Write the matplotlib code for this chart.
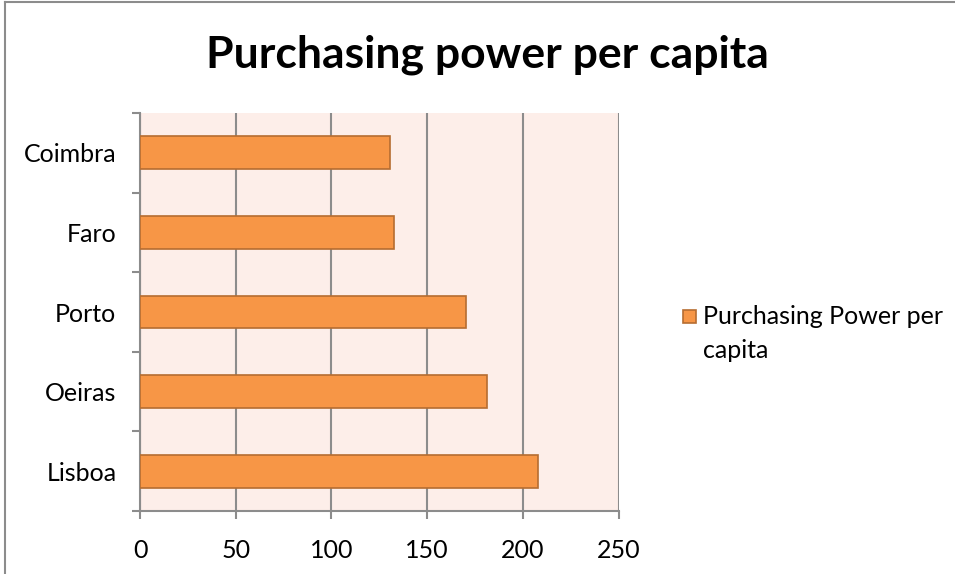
import matplotlib
matplotlib.use('Agg')
import matplotlib.pyplot as plt
from matplotlib.lines import Line2D
from matplotlib.patches import Rectangle
import numpy as np

plt.rcParams['font.family'] = ['Lato', 'DejaVu Sans']

cities = ['Lisboa', 'Oeiras', 'Porto', 'Faro', 'Coimbra']
purchasing_power = [208, 181, 170, 132.5, 130.5]
series_name = 'Purchasing Power per\ncapita'
x_ticks = [0, 50, 100, 150, 200, 250]

W, H = 955, 574
fig = plt.figure(figsize=(W / 100, H / 100), dpi=100)
ax = fig.add_axes([140 / W, 1 - 511 / H, (618.7 - 140) / W, (511 - 113) / H])

grid_col = '#8c8c8c'
bar_face = '#f79646'
bar_edge = '#b66d31'

ax.set_facecolor('#fdeee9')
y = np.arange(len(cities))
ax.barh(y, purchasing_power, height=0.41, color=bar_face, edgecolor=bar_edge,
        linewidth=1.2, zorder=3)

ax.set_xlim(0, 250)
ax.set_ylim(-0.5, len(cities) - 0.5)
ax.set_xticks(x_ticks)
ax.set_xticklabels([str(v) for v in x_ticks], fontsize=18)
ax.xaxis.grid(True, color=grid_col, linewidth=1.5, zorder=1)

# category ticks sit between bars, labels centred on bars
ax.set_yticks(np.arange(-0.5, len(cities), 1.0))
ax.set_yticklabels([])
ax.set_yticks(y, minor=True)
ax.set_yticklabels(cities, minor=True, fontsize=18)
ax.tick_params(axis='y', which='major', length=6, width=1.5, color=grid_col)
ax.tick_params(axis='y', which='minor', length=0, pad=17)
ax.tick_params(axis='x', length=6, width=1.5, color=grid_col, pad=14)

for side in ['top', 'right']:
    ax.spines[side].set_visible(False)
for side in ['left', 'bottom']:
    ax.spines[side].set_color(grid_col)
    ax.spines[side].set_linewidth(1.5)

fig.text(487 / W, 1 - 55 / H, 'Purchasing power per capita', fontsize=32,
         fontweight='bold', ha='center', va='center')

# legend
fig.patches.append(Rectangle((683 / W, 1 - 323 / H), 13 / W, 13 / H,
                             transform=fig.transFigure, facecolor=bar_face,
                             edgecolor=bar_edge, linewidth=1.2))
fig.text(703 / W, 1 - 305 / H, series_name, fontsize=18, ha='left', va='top',
         linespacing=1.6)

# chart border
fig.lines.append(Line2D([5 / W, 5 / W], [0, 1 - 2 / H], transform=fig.transFigure,
                        color='#8c8c8c', linewidth=1.5))
fig.lines.append(Line2D([5 / W, 1], [1 - 2 / H, 1 - 2 / H], transform=fig.transFigure,
                        color='#8c8c8c', linewidth=1.5))

fig.savefig('out.png', dpi=100)
